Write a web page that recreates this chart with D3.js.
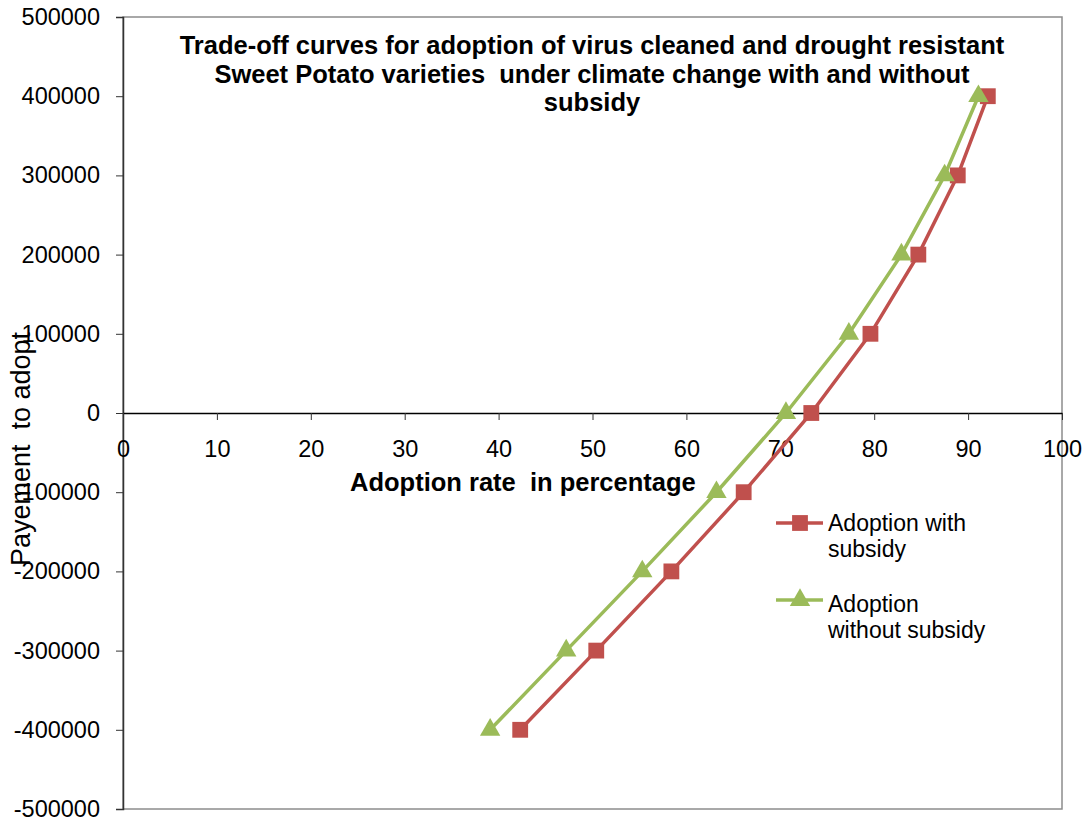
<!DOCTYPE html>
<html>
<head>
<meta charset="utf-8">
<script src="https://cdn.jsdelivr.net/npm/d3@7"></script>
<style>
  html, body { margin: 0; padding: 0; background: #fff; }
  svg text { font-family: "Liberation Sans", Arial, sans-serif; fill: #000; white-space: pre; }
</style>
</head>
<body>
<svg id="chart" width="1085" height="820"></svg>
<script>
// Payment levels (y) and adoption rates (%) for each scenario
const payments = [-400000, -300000, -200000, -100000, 0, 100000, 200000, 300000, 400000];
const withSubsidy = [42.3, 50.4, 58.4, 66.1, 73.3, 79.6, 84.7, 88.9, 92.1];
const withoutSubsidy = [39.1, 47.2, 55.3, 63.2, 70.6, 77.3, 82.9, 87.5, 91.1];
const xTicks = [0, 10, 20, 30, 40, 50, 60, 70, 80, 90, 100];
const yTicks = [-500000, -400000, -300000, -200000, -100000, 0, 100000, 200000, 300000, 400000, 500000];
const titleLines = [
  "Trade-off curves for adoption of virus cleaned and drought resistant",
  "Sweet Potato varieties  under climate change with and without",
  "subsidy"
];
const seriesNames = [["Adoption with", "subsidy"], ["Adoption", "without subsidy"]];
const seriesColors = ["#C0504D", "#9BBB59"];

const svg = d3.select("#chart");
const plot = { left: 123, right: 1062, top: 17, bottom: 809 };

const x = d3.scaleLinear().domain([0, 100]).range([plot.left, plot.right]);
const y = d3.scaleLinear().domain([-500000, 500000]).range([plot.bottom, plot.top]);

// Plot area frame
svg.append("rect")
  .attr("x", plot.left).attr("y", plot.top)
  .attr("width", plot.right - plot.left).attr("height", plot.bottom - plot.top)
  .attr("fill", "none").attr("stroke", "#8c8c8c").attr("stroke-width", 1.5);

// Y axis on the left (plain hyphen for negatives)
const yAxis = svg.append("g")
  .attr("transform", `translate(${plot.left},0)`)
  .call(d3.axisLeft(y).tickValues(yTicks).tickSize(7).tickPadding(16).tickFormat(d => String(d)));
yAxis.select(".domain").attr("stroke", "#333").attr("stroke-width", 1.5);
yAxis.selectAll(".tick line").attr("stroke", "#333");
yAxis.selectAll("text").style("font-size", "23.5px").attr("fill", "#000");

// X axis crossing at zero payment
const xAxis = svg.append("g")
  .attr("transform", `translate(0,${y(0)})`)
  .call(d3.axisBottom(x).tickValues(xTicks).tickSize(7).tickPadding(6).tickSizeOuter(0));
xAxis.select(".domain").attr("stroke", "#000").attr("stroke-width", 1.3);
xAxis.selectAll(".tick line").attr("stroke", "#333");
xAxis.selectAll("text").style("font-size", "23.5px").attr("fill", "#000").attr("dy", "1.3em");

// Series
const line = d3.line().x(d => x(d[0])).y(d => y(d[1]));
const series = [withSubsidy, withoutSubsidy].map(vals => vals.map((v, i) => [v, payments[i]]));

const square = d3.symbol().type(d3.symbolSquare).size(250);
const triangle = d3.symbol().type(d3.symbolTriangle).size(180);
const markers = [square, triangle];

series.forEach((pts, k) => {
  svg.append("path")
    .datum(pts)
    .attr("d", line)
    .attr("fill", "none")
    .attr("stroke", seriesColors[k])
    .attr("stroke-width", 3.5);
  svg.append("g").selectAll("path")
    .data(pts)
    .join("path")
    .attr("transform", d => `translate(${x(d[0])},${y(d[1])})`)
    .attr("d", markers[k]())
    .attr("fill", seriesColors[k]);
});

// Title
svg.append("text")
  .attr("x", 592).attr("y", 54)
  .attr("text-anchor", "middle")
  .style("font-size", "25.5px").style("font-weight", "bold")
  .selectAll("tspan")
  .data(titleLines)
  .join("tspan")
  .attr("x", 592)
  .attr("dy", (d, i) => i === 0 ? 0 : 28.5)
  .text(d => d);

// Axis titles
svg.append("text")
  .attr("x", 350).attr("y", 491)
  .style("font-size", "25.5px").style("font-weight", "bold")
  .text("Adoption rate  in percentage");

svg.append("text")
  .attr("transform", "translate(30,449) rotate(-90)")
  .attr("text-anchor", "middle")
  .style("font-size", "27px")
  .text("Payement  to adopt");

// Legend
const legendRows = [{ y: 523, text: 531 }, { y: 600, text: 612 }];
legendRows.forEach((r, k) => {
  svg.append("line")
    .attr("x1", 776).attr("x2", 823).attr("y1", r.y).attr("y2", r.y)
    .attr("stroke", seriesColors[k]).attr("stroke-width", 3.5);
  svg.append("path")
    .attr("transform", `translate(800,${r.y})`)
    .attr("d", markers[k]())
    .attr("fill", seriesColors[k]);
  svg.append("text")
    .attr("x", 828).attr("y", r.text)
    .style("font-size", "23px")
    .selectAll("tspan")
    .data(seriesNames[k])
    .join("tspan")
    .attr("x", 828)
    .attr("dy", (d, i) => i === 0 ? 0 : 26)
    .text(d => d);
});
</script>
</body>
</html>
